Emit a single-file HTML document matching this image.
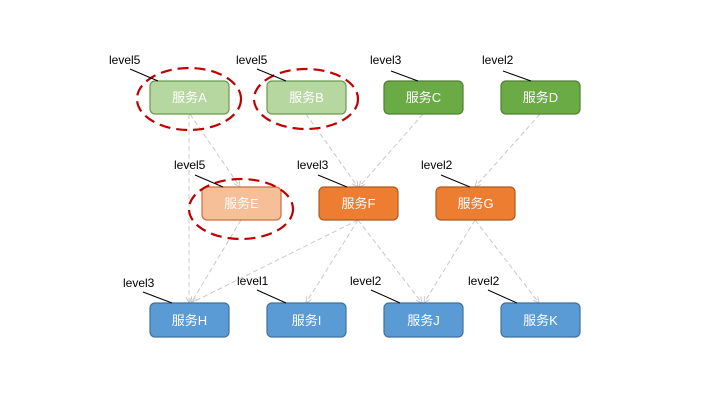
<!DOCTYPE html>
<html><head><meta charset="utf-8"><style>
body{margin:0;background:#fff}
svg text{font-family:"Liberation Sans","Noto Sans CJK SC",sans-serif}
</style></head><body>
<svg width="720" height="405" viewBox="0 0 720 405" xmlns="http://www.w3.org/2000/svg">
<defs>
<marker id="ar" markerWidth="8" markerHeight="8" refX="6" refY="3" orient="auto" markerUnits="userSpaceOnUse">
<path d="M0,0 L6,3 L0,6" fill="none" stroke="#c8c8c8" stroke-width="1"/>
</marker>
</defs>
<g stroke="#c8c8c8" stroke-width="1" stroke-dasharray="5,3" fill="none" marker-end="url(#ar)">
<line x1="189" y1="114" x2="189" y2="303"/>
<line x1="190" y1="114" x2="240" y2="187"/>
<line x1="306" y1="114" x2="358" y2="187"/>
<line x1="423" y1="114" x2="359" y2="187"/>
<line x1="540" y1="114" x2="475" y2="187"/>
<line x1="241" y1="220" x2="191" y2="303"/>
<line x1="358" y1="220" x2="191" y2="303"/>
<line x1="358" y1="220" x2="306" y2="303"/>
<line x1="358" y1="220" x2="422" y2="303"/>
<line x1="475" y1="220" x2="424" y2="303"/>
<line x1="475" y1="220" x2="539" y2="303"/>
</g>
<g stroke-width="1.2" font-size="13" text-anchor="middle" fill="#fff">
<rect x="150" y="81" width="79" height="33" rx="5" fill="#b7d7a1" stroke="#6a9a4f"/>
<rect x="267" y="81" width="79" height="33" rx="5" fill="#b7d7a1" stroke="#6a9a4f"/>
<rect x="384" y="81" width="79" height="33" rx="5" fill="#6aab46" stroke="#4f7f34"/>
<rect x="501" y="81" width="79" height="33" rx="5" fill="#6aab46" stroke="#4f7f34"/>
<rect x="202" y="187" width="79" height="33" rx="5" fill="#f6bf98" stroke="#c9703e"/>
<rect x="319" y="187" width="79" height="33" rx="5" fill="#ed7d31" stroke="#ae5a21"/>
<rect x="436" y="187" width="79" height="33" rx="5" fill="#ed7d31" stroke="#ae5a21"/>
<rect x="150" y="303" width="79" height="34" rx="5" fill="#5b9bd5" stroke="#41719c"/>
<rect x="267" y="303" width="79" height="34" rx="5" fill="#5b9bd5" stroke="#41719c"/>
<rect x="384" y="303" width="79" height="34" rx="5" fill="#5b9bd5" stroke="#41719c"/>
<rect x="501" y="303" width="79" height="34" rx="5" fill="#5b9bd5" stroke="#41719c"/>
</g>
<g font-size="13" text-anchor="middle" fill="#fff">
<text x="189.5" y="102">服务A</text>
<text x="306.5" y="102">服务B</text>
<text x="423.5" y="102">服务C</text>
<text x="540.5" y="102">服务D</text>
<text x="241.5" y="208">服务E</text>
<text x="358.5" y="208">服务F</text>
<text x="475.5" y="208">服务G</text>
<text x="189.5" y="325">服务H</text>
<text x="306.5" y="325">服务I</text>
<text x="423.5" y="325">服务J</text>
<text x="540.5" y="325">服务K</text>
</g>
<g fill="none" stroke="#c00000" stroke-width="2.2" stroke-dasharray="11,6">
<ellipse cx="189" cy="99" rx="52" ry="31"/>
<ellipse cx="306" cy="99" rx="52" ry="30"/>
<ellipse cx="241" cy="209" rx="52" ry="30"/>
</g>
<g stroke="#000" stroke-width="1">
<line x1="130" y1="69" x2="158" y2="81"/>
<line x1="257" y1="69" x2="286" y2="81"/>
<line x1="391" y1="71" x2="418" y2="81"/>
<line x1="503" y1="71" x2="531" y2="81"/>
<line x1="195" y1="175" x2="223" y2="187"/>
<line x1="318" y1="175" x2="347" y2="187"/>
<line x1="441" y1="175" x2="470" y2="187"/>
<line x1="143" y1="292" x2="172" y2="303"/>
<line x1="257" y1="290" x2="286" y2="303"/>
<line x1="371" y1="290" x2="400" y2="303"/>
<line x1="488" y1="290" x2="517" y2="303"/>
</g>
<g font-size="12" fill="#000">
<text x="109" y="64">level5</text>
<text x="236" y="64">level5</text>
<text x="370" y="64">level3</text>
<text x="482" y="64">level2</text>
<text x="174" y="169">level5</text>
<text x="297" y="169">level3</text>
<text x="421" y="169">level2</text>
<text x="123" y="287">level3</text>
<text x="237" y="285">level1</text>
<text x="350" y="285">level2</text>
<text x="468" y="285">level2</text>
</g>
</svg>
</body></html>
